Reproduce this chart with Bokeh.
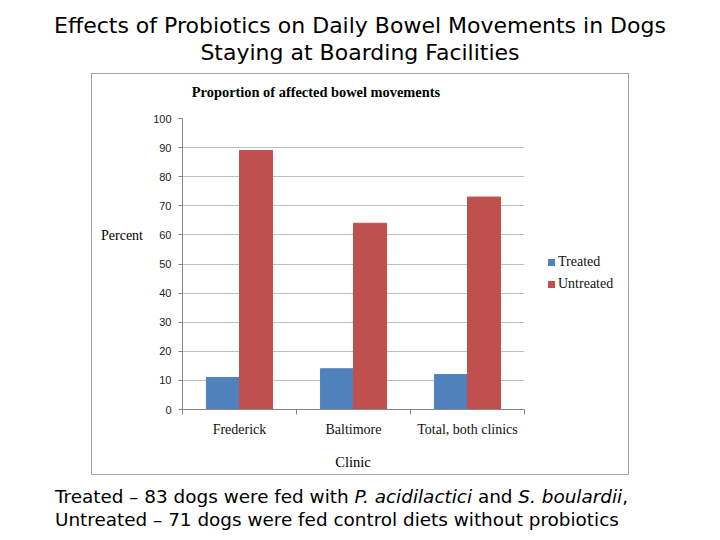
from bokeh.plotting import figure
from bokeh.models import (FactorRange, Range1d, LinearAxis, CategoricalAxis, FixedTicker,
                          ColumnDataSource, Div)
from bokeh.transform import dodge
from bokeh.layouts import column
from bokeh.embed import file_html
from bokeh.resources import INLINE

# ---- data ----
clinics = ["Frederick", "Baltimore", "Total, both clinics"]
treated = [11, 14, 12]
untreated = [89, 64, 73]
series_names = ["Treated", "Untreated"]
y_ticks = [0, 10, 20, 30, 40, 50, 60, 70, 80, 90, 100]

main_title = ["Effects of Probiotics on Daily Bowel Movements in Dogs",
              "Staying at Boarding Facilities"]
chart_title = "Proportion of affected bowel movements"
y_label = "Percent"
x_label = "Clinic"

BLUE = "#4F81BD"
RED = "#C0504D"
series_colors = [BLUE, RED]
SERIF = "Liberation Serif"
SANS = "Liberation Sans"

src = ColumnDataSource(dict(clinic=clinics, treated=treated, untreated=untreated))

FL, FR, FT, FB = 182, 524, 118, 409  # frame edges in page pixels
W, H = 720, 480
N = len(clinics)

# ---------------- chart figure ----------------
p = figure(width=W, height=H, x_range=FactorRange(*clinics), y_range=Range1d(0, 100),
           output_backend="svg", toolbar_location=None, x_axis_location=None,
           y_axis_location=None,
           min_border_left=FL, min_border_right=W - FR, min_border_top=FT,
           min_border_bottom=H - FB, margin=(-H, 0, 0, 0))
p.outline_line_color = None
p.background_fill_alpha = 0
p.border_fill_alpha = 0

yax = LinearAxis(ticker=FixedTicker(ticks=y_ticks))
yax.axis_line_color = "#868686"
yax.major_tick_line_color = "#868686"
yax.major_tick_out = 4
yax.major_tick_in = 0
yax.minor_tick_out = 0
yax.minor_tick_in = 0
yax.major_label_standoff = 7
yax.major_label_text_font = SANS
yax.major_label_text_font_size = "11px"
yax.major_label_text_color = "#222222"
p.add_layout(yax, "left")

# bottom axis line with boundary ticks between categories
tax = LinearAxis(ticker=FixedTicker(ticks=list(range(N + 1))))
tax.axis_line_color = "#868686"
tax.major_tick_line_color = "#868686"
tax.major_tick_out = 5
tax.major_tick_in = 0
tax.minor_tick_out = 0
tax.minor_tick_in = 0
tax.major_label_text_font_size = "0px"
tax.major_label_standoff = 0
p.add_layout(tax, "below")

cax = CategoricalAxis()
cax.axis_line_color = None
cax.major_tick_line_color = None
cax.major_tick_out = 0
cax.major_tick_in = 0
cax.major_label_standoff = 7
cax.major_label_text_font = SERIF
cax.major_label_text_font_size = "14px"
cax.major_label_text_color = "#111111"
p.add_layout(cax, "below")

p.ygrid.grid_line_color = "#BFBFBF"
p.ygrid.ticker = FixedTicker(ticks=y_ticks)
p.xgrid.grid_line_color = None

p.vbar(x=dodge("clinic", -0.145, range=p.x_range), top="treated", width=0.29,
       source=src, fill_color=BLUE, line_color=BLUE)
p.vbar(x=dodge("clinic", 0.145, range=p.x_range), top="untreated", width=0.29,
       source=src, fill_color=RED, line_color=RED)

# ---------------- page texts, legend and chart box (HTML layer under the chart) ----------------
def abs_text(cx, cy, text, font, size, weight="normal", w=700, lh=28):
    return (f"<div style=\"position:absolute;left:{cx - w / 2}px;top:{cy - lh / 2}px;"
            f"width:{w}px;height:{lh}px;line-height:{lh}px;text-align:center;"
            f"font-family:'{font}';font-size:{size};font-weight:{weight};color:#000;"
            f"white-space:nowrap\">{text}</div>")

def legend_row(cy, name, color):
    return (f"<div style=\"position:absolute;left:548px;top:{cy - 3.5}px;width:7px;"
            f"height:7px;background:{color}\"></div>"
            f"<div style=\"position:absolute;left:558px;top:{cy - 9}px;height:18px;"
            f"line-height:18px;font-family:'{SERIF}';font-size:14px;color:#111;"
            f"white-space:nowrap\">{name}</div>")

page_html = (
    "<div style=\"position:relative;width:720px;height:480px;background:white\">"
    "<div style=\"position:absolute;left:91px;top:73px;width:538px;height:402px;"
    "box-sizing:border-box;border:1.5px solid #A6A6A6\"></div>"
    + abs_text(360, 26, main_title[0], "DejaVu Sans", "22px")
    + abs_text(360, 53, main_title[1], "DejaVu Sans", "22px")
    + abs_text(316, 92, chart_title, SERIF, "14.4px", weight="bold", w=400, lh=18)
    + abs_text(122, 236, y_label, SERIF, "14px", w=100, lh=18)
    + abs_text(353, 462, x_label, SERIF, "14.5px", w=100, lh=18)
    + legend_row(262, series_names[0], series_colors[0])
    + legend_row(284, series_names[1], series_colors[1])
    + "</div>"
)
page = Div(text=page_html, width=W, height=H, margin=0)

foot = Div(text=("<div style=\"font-family:'DejaVu Sans';font-size:18.4px;line-height:23px;"
                 "padding:5px 0 0 55px;color:#000;white-space:nowrap\">"
                 "Treated \u2013 83 dogs were fed with <i>P. acidilactici</i> and "
                 "<i>S. boulardii</i>,<br>"
                 "Untreated \u2013 71 dogs were fed control diets without probiotics</div>"),
           width=720, height=60, margin=0)

layout = column(page, p, foot, spacing=0, margin=0)
open("out.html", "w").write(file_html(layout, INLINE))
